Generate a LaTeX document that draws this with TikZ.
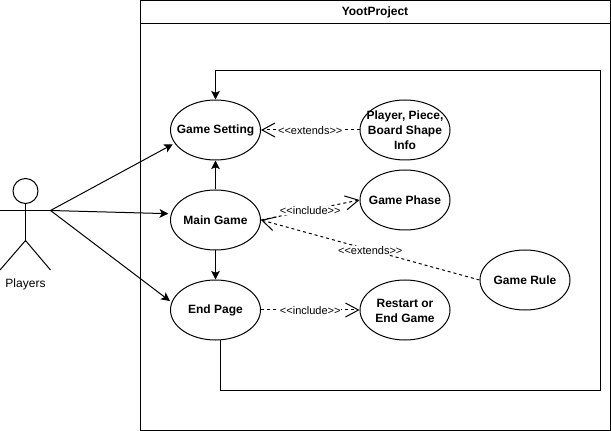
\documentclass[tikz,border=0pt]{standalone}
\usepackage{fontspec}
\setmainfont{Liberation Sans}
\usetikzlibrary{arrows.meta,shapes.geometric}
\tikzset{
  usecase/.style={draw,ellipse,inner sep=0pt,minimum width=67.5pt,minimum height=45pt},
  casetext/.style={font=\bfseries\fontsize{9}{11.25}\selectfont,align=center,inner sep=0pt,yshift=-0.5pt},
  steretext/.style={font=\fontsize{8.25}{10}\selectfont,fill=white,inner sep=0.5pt,yshift=-0.5pt},
  solidarrow/.style={-{Stealth[length=6.5pt,width=6.5pt,inset=1.5pt]}},
  openarrow/.style={dashed,dash pattern=on 2.25pt off 2.25pt,-{Straight Barb[length=9.75pt,width=10.5pt]}}
}
\newcommand{\extendstext}{<{}<extends>{}>}
\newcommand{\includetext}{<{}<include>{}>}
\begin{document}
\begin{tikzpicture}[x=0.75pt,y=-0.75pt,line width=0.75pt]
    \useasboundingbox (0,0) rectangle (611,431);
 %frame
    \node[draw,minimum width=352.5pt,minimum height=322.5pt,inner sep=0pt] (frame) at (375.25,215.5) {};
    \coordinate (headL) at (140.5,23.5);
    \coordinate (headR) at (610,23.5);
    \draw (headL) -- (headR);
    \node[casetext] (title) at (375,12) {YootProject};
 %use cases
    \node[usecase,label={[casetext]center:Game Setting}] (setting) at (215.5,130) {};
    \node[usecase,label={[casetext]center:Main Game}] (main) at (215.5,220) {};
    \node[usecase,label={[casetext]center:End Page}] (end) at (215.5,310) {};
    \node[usecase,label={[casetext]center:Player, Piece,\\Board Shape\\Info}] (info) at (405,130) {};
    \node[usecase,label={[casetext]center:Game Phase}] (phase) at (405,200) {};
    \node[usecase,label={[casetext]center:Restart or\\End Game}] (restart) at (405,310) {};
    \node[usecase,label={[casetext]center:Game Rule}] (rule) at (525,280) {};
 %actor
    \node[draw,circle,inner sep=0pt,minimum size=18.75pt] (head) at (25.5,191) {};
    \coordinate (armL) at (0,210.5);
    \coordinate (armR) at (50.5,210.5);
    \coordinate (hip) at (25.5,240.5);
    \coordinate (legL) at (0,270);
    \coordinate (legR) at (50.5,270);
    \draw (head) -- (hip);
    \draw (armL) -- (armR);
    \draw (legL) -- (hip) -- (legR);
    \node[font=\fontsize{9}{11}\selectfont,inner sep=0pt] (players) at (25.5,284) {Players};
 %actor arrows
    \draw[solidarrow,shorten >=1.5pt] (armR) -- (setting.198);
    \draw[solidarrow,shorten >=2pt] (armR) -- (main.172);
    \draw[solidarrow,shorten >=1.5pt] (armR) -- (end.170);
 %flow
    \draw[solidarrow] (main) -- (setting);
    \draw[solidarrow] (main) -- (end);
    \coordinate (loopA) at (220.5,390);
    \coordinate (loopB) at (600.5,390);
    \coordinate (loopC) at (600.5,70.5);
    \coordinate (loopD) at (215.5,70.5);
    \coordinate (endOut) at (220.5,339.5);
    \draw[solidarrow] (endOut) -- (loopA) -- (loopB) -- (loopC) -- (loopD) -- (setting.north);
 %dashed
    \draw[openarrow] (info.west) -- (setting.east) node[steretext,midway] (ext1) {\extendstext};
    \draw[openarrow] (main.east) -- (phase.west) node[steretext,midway] (inc1) {\includetext};
    \draw[openarrow] (rule.west) -- (main.east) node[steretext,midway] (ext2) {\extendstext};
    \draw[openarrow] (end.east) -- (restart.west) node[steretext,midway] (inc2) {\includetext};
\end{tikzpicture}
\end{document}
